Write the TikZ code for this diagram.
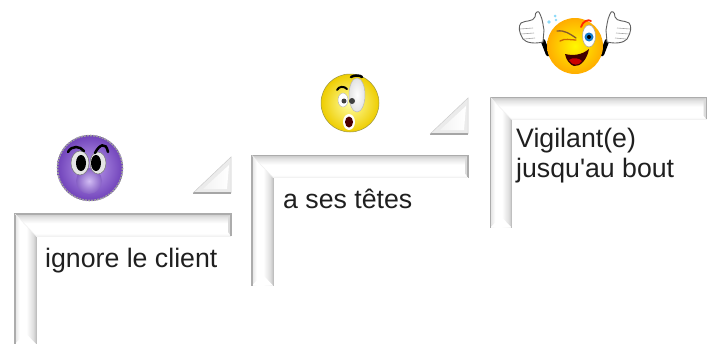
\documentclass[tikz,border=0pt]{standalone}
\usepackage{fontspec}
\setmainfont{Liberation Sans}
\usetikzlibrary{positioning}

\definecolor{facepurple}{RGB}{112,66,186}
\definecolor{facelilac}{RGB}{190,160,238}
\definecolor{facegold}{RGB}{238,205,0}

\pgfdeclareverticalshading{bandtop}{100bp}{
  color(0bp)=(gray!10); color(25bp)=(gray!10); color(31bp)=(white); color(54bp)=(white);
  color(68bp)=(gray!22); color(75bp)=(gray!42); color(100bp)=(gray!42)}
\pgfdeclarehorizontalshading{bandleft}{100bp}{
  color(0bp)=(gray!22); color(25bp)=(gray!22); color(36bp)=(white); color(52bp)=(white);
  color(68bp)=(gray!25); color(75bp)=(gray!48); color(100bp)=(gray!48)}

\tikzset{
  stepbar/.pic = {
    % top band
    \path[shading=bandtop]
      (0,0) -- (216,0) -- (216,22) -- (21,22) -- cycle;
    \path[fill=gray!28] (216,0) -- (216,22) -- (213,18) -- (213,3) -- cycle;
    % left band
    \path[shading=bandleft]
      (0,0) -- (21,22) -- (21,130) -- (0,130) -- cycle;
    \path[fill=white] (0,130) -- (10.5,119) -- (21,130) -- cycle;
    \draw[gray!65, line width=1.2pt] (0,130) -- (0,0) -- (216,0) -- (216,22);
    \draw[gray!50, line width=.9pt] (21,130) -- (21,22);
    \draw[gray!10, line width=.7pt] (21,22) -- (216,22);
    \draw[gray!12, line width=.5pt] (0,0) -- (21,22);
  },
  cornerfold/.pic = {
    \path[fill=gray!16] (-38,0) -- (0,0) -- (0,-36) -- cycle;
    \path[left color=gray!10, right color=white] (-28,-4) -- (-4,-4) -- (-2,-28) -- cycle;
    \draw[gray!70, line width=1.2pt] (-38,0) -- (0,0);
    \draw[gray!40, line width=.5pt] (-38,0) -- (0,-36) -- (0,0);
  },
  handup/.pic = {
    \draw[black, line width=4.5pt, line cap=round] (10,11) -- (15,24);
    \draw[fill=white, draw=gray!75!black, line width=.9pt]
      (10,12) .. controls (2,14) and (-7,13) .. (-10,9)
      .. controls (-14,3) and (-15,-4) .. (-12,-7)
      .. controls (-7,-10) and (0,-8) .. (2,-13)
      .. controls (2,-19) and (6,-20) .. (7,-16)
      .. controls (10,-10) and (10,-4) .. (11,0) -- cycle;
    \draw[gray!70, line width=.6pt] (-13,-1) -- (0,-2) (-12,4) -- (1,3) (-9,9) -- (2,8);
  },
  label/.style = {font=\fontsize{26.7}{30}\selectfont, text=black!88, inner sep=0pt, align=left},
  browline/.style = {draw=black, line width=2pt, line cap=round}
}

\begin{document}
\begin{tikzpicture}[x=1pt, y=-1pt]
\useasboundingbox (0,0) rectangle (715,343);

% ====== STEPS ======
\pic (stepone) at (15,214) {stepbar};
\pic (steptwo) at (252,155.5) {stepbar};
\pic (stepthree) at (490.5,97.5) {stepbar};

\pic (foldone) at (231,193) {cornerfold};
\pic (foldtwo) at (468,134) {cornerfold};

% ====== LABELS ======
\node[label, anchor=base west] (ignore) at (45,267) {ignore le client};
\node[label, anchor=base west] (tetes) at (283,208) {a ses têtes};
\node[label, anchor=base west] (vigilant) at (516,147) {Vigilant(e)};
\node[label, anchor=base west] (jusquau) at (516,177) {jusqu\textquotesingle au bout};

% ====== PURPLE FACE ======
\shade[inner color=facelilac, outer color=facepurple] (90,168) circle (33);
\draw[gray!75, line width=1.6pt, dash pattern=on 2pt off 1pt] (90,168) circle (32.5);
\shade[inner color=facelilac!70!white, outer color=facepurple!85!white] (89,181) circle (13);
\path[fill=gray!20, draw=black!55, line width=.5pt] (80,163) ellipse (9 and 12);
\path[fill=gray!20, draw=black!55, line width=.5pt] (98,163) ellipse (8 and 11);
\path[fill=black] (81,163) ellipse (5 and 8);
\path[fill=black] (96,163) ellipse (5 and 8);
\draw[browline, line width=2.5pt] (68,152) .. controls (72,145) and (80,146) .. (84,151);
\draw[browline, line width=2.5pt] (95,153) .. controls (99,145) and (106,141) .. (108,152);

% ====== SURPRISED FACE ======
\shade[inner color=yellow!35!white, outer color=facegold] (350,103) circle (29);
\draw[yellow!55!black, line width=.5pt] (350,103) circle (29);
\shade[inner color=white, outer color=gray!22] (357,95) ellipse (8 and 17);
\draw[gray!55, line width=.5pt] (357,95) ellipse (8 and 17);
\path[fill=white, draw=gray!60, line width=.4pt] (343,100) ellipse (5 and 7);
\path[fill=black!75] (352,101) circle (3);
\path[fill=black!75] (344,101) circle (2.5);
\draw[browline] (337,90) .. controls (339,86) and (344,86) .. (347,89);
\draw[browline, line width=2.5pt] (351,77) .. controls (354,75) and (360,75) .. (362,77);
\path[fill=white] (349,122) ellipse (6 and 8);
\path[fill=black!70!red] (349,122) ellipse (4 and 5.5);

% ====== WINKING FACE ======
\pic (handleft) at (533,30) {handup};
\pic[xscale=-1] (handright) at (617,30) {handup};
\shade[inner color=yellow!95!orange, outer color=orange!65!yellow] (575,46) circle (28);
\draw[brown!70!black, line width=1.3pt, line cap=round] (557,31) .. controls (565,30) and (570,34) .. (576,38);
\draw[orange!80!black, line width=1.3pt, line cap=round] (560,41) .. controls (565,38) and (570,40) .. (576,40);
\path[fill=white, draw=gray!70, line width=.5pt] (589,36) ellipse (6.5 and 11);
\path[fill=cyan!60!blue] (589,37) circle (4.5);
\path[fill=black] (589,37) circle (2);
\draw[red!70!orange, line width=1.8pt, line cap=round] (581,27) .. controls (583,21) and (588,19) .. (591,21);
\path[fill=black!75!red] (565,54) .. controls (573,56) and (582,55) .. (589,49)
  .. controls (587,60) and (580,67) .. (574,66) .. controls (570,65) and (566,60) .. (565,54) -- cycle;
\path[fill=red!80!black] (569,60) .. controls (573,57) and (579,58) .. (582,61) .. controls (579,66) and (572,66) .. (569,60) -- cycle;
\path[fill=cyan!45] (549,22) circle (1.8) (555,16) circle (1.5) (556,20) circle (1.4);

\end{tikzpicture}
\end{document}
